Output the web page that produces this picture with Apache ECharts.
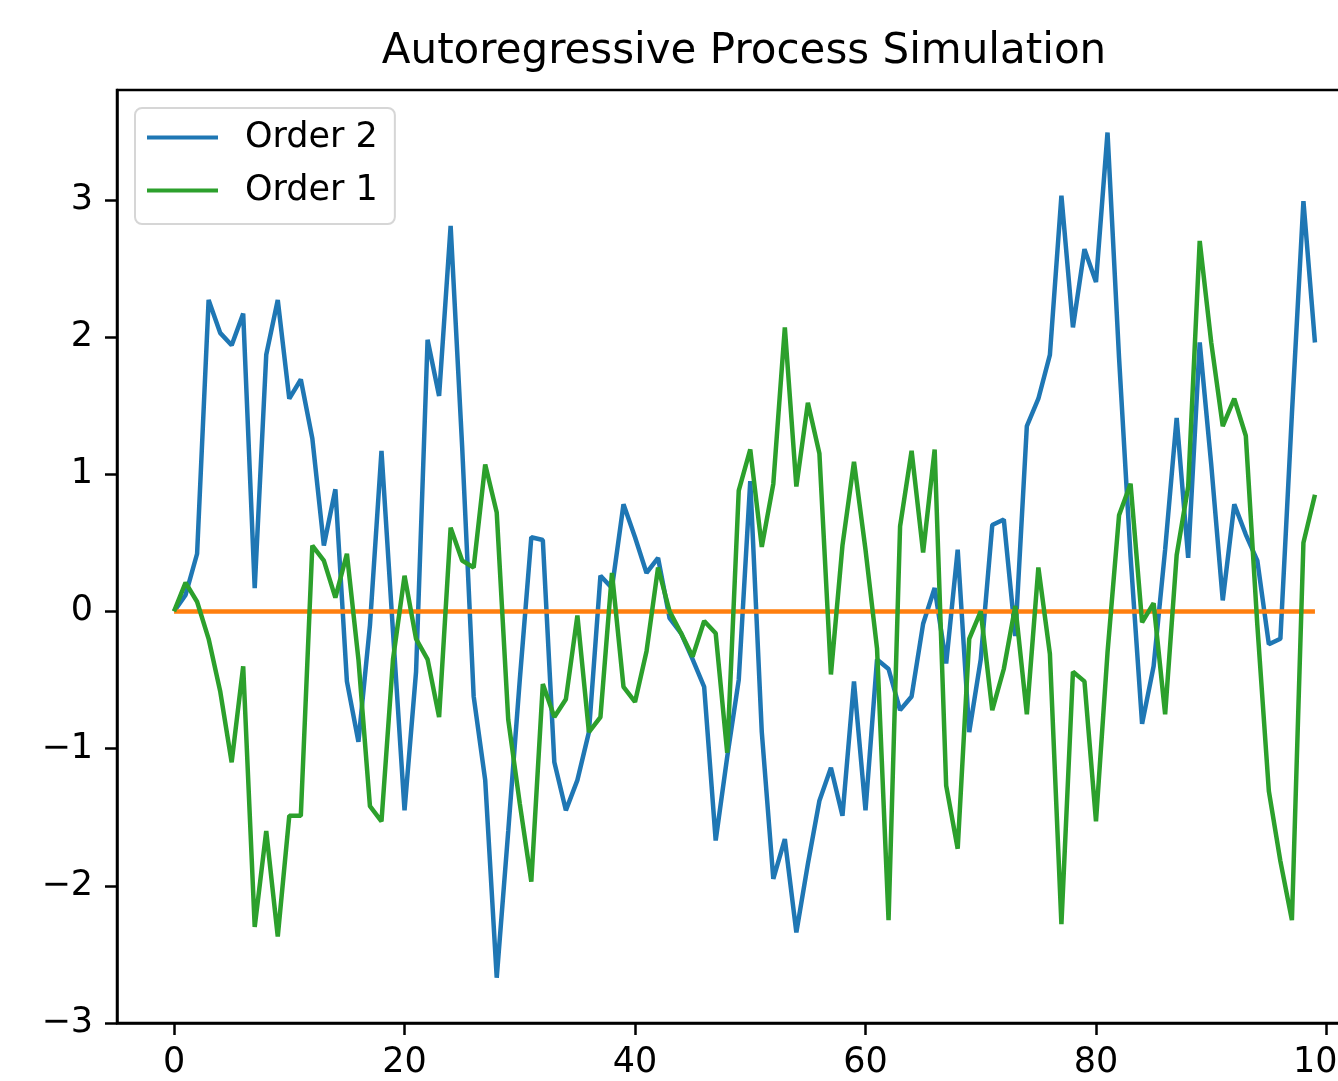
<!DOCTYPE html>
<html>
<head>
<meta charset="utf-8">
<title>Autoregressive Process Simulation</title>
<script src="https://cdn.jsdelivr.net/npm/echarts@6/dist/echarts.min.js"></script>
<style>
  html, body { margin: 0; padding: 0; background: #fff; }
  #chart { width: 1338px; height: 1081px; }
</style>
</head>
<body>
<div id="chart"></div>
<script>
// time steps
const steps = [
  0, 1, 2, 3, 4, 5, 6, 7, 8, 9, 10, 11, 12, 13, 14, 15, 16, 17, 18, 19,
  20, 21, 22, 23, 24, 25, 26, 27, 28, 29, 30, 31, 32, 33, 34, 35, 36, 37, 38, 39,
  40, 41, 42, 43, 44, 45, 46, 47, 48, 49, 50, 51, 52, 53, 54, 55, 56, 57, 58, 59,
  60, 61, 62, 63, 64, 65, 66, 67, 68, 69, 70, 71, 72, 73, 74, 75, 76, 77, 78, 79,
  80, 81, 82, 83, 84, 85, 86, 87, 88, 89, 90, 91, 92, 93, 94, 95, 96, 97, 98, 99
]

// AR(2) simulation
const order2 = [
  0, 0.12, 0.42, 2.27, 2.03, 1.94, 2.17, 0.17, 1.87, 2.27,
  1.55, 1.69, 1.26, 0.48, 0.89, -0.51, -0.95, -0.1, 1.17, -0.15,
  -1.45, -0.44, 1.98, 1.57, 2.81, 1.2, -0.62, -1.23, -2.67, -1.6,
  -0.5, 0.54, 0.52, -1.1, -1.45, -1.23, -0.88, 0.26, 0.17, 0.78,
  0.54, 0.28, 0.39, -0.05, -0.16, -0.35, -0.55, -1.67, -1.06, -0.5,
  0.95, -0.88, -1.95, -1.66, -2.34, -1.84, -1.38, -1.14, -1.49, -0.51,
  -1.45, -0.35, -0.42, -0.72, -0.62, -0.09, 0.17, -0.38, 0.45, -0.88,
  -0.35, 0.63, 0.67, -0.18, 1.35, 1.55, 1.87, 3.03, 2.07, 2.64,
  2.4, 3.49, 1.85, 0.4, -0.82, -0.4, 0.45, 1.41, 0.39, 1.96,
  1.07, 0.08, 0.78, 0.56, 0.37, -0.24, -0.2, 1.44, 2.99, 1.96
]

// flat order-0 line
const order0 = [
  0, 0, 0, 0, 0, 0, 0, 0, 0, 0, 0, 0, 0, 0, 0, 0, 0, 0, 0, 0,
  0, 0, 0, 0, 0, 0, 0, 0, 0, 0, 0, 0, 0, 0, 0, 0, 0, 0, 0, 0,
  0, 0, 0, 0, 0, 0, 0, 0, 0, 0, 0, 0, 0, 0, 0, 0, 0, 0, 0, 0,
  0, 0, 0, 0, 0, 0, 0, 0, 0, 0, 0, 0, 0, 0, 0, 0, 0, 0, 0, 0,
  0, 0, 0, 0, 0, 0, 0, 0, 0, 0, 0, 0, 0, 0, 0, 0, 0, 0, 0, 0
]

// AR(1) simulation
const order1 = [
  0, 0.21, 0.07, -0.2, -0.58, -1.1, -0.4, -2.3, -1.6, -2.37,
  -1.49, -1.49, 0.48, 0.37, 0.1, 0.42, -0.35, -1.42, -1.53, -0.35,
  0.26, -0.2, -0.35, -0.77, 0.61, 0.37, 0.32, 1.07, 0.72, -0.79,
  -1.4, -1.97, -0.53, -0.77, -0.64, -0.03, -0.88, -0.77, 0.28, -0.55,
  -0.66, -0.29, 0.32, 0, -0.16, -0.33, -0.07, -0.16, -1.03, 0.88,
  1.18, 0.47, 0.93, 2.07, 0.91, 1.52, 1.15, -0.46, 0.48, 1.09,
  0.45, -0.27, -2.25, 0.62, 1.17, 0.43, 1.18, -1.27, -1.73, -0.2,
  0, -0.72, -0.42, 0.04, -0.75, 0.32, -0.31, -2.28, -0.44, -0.51,
  -1.53, -0.3, 0.7, 0.93, -0.08, 0.06, -0.75, 0.41, 0.91, 2.7,
  1.96, 1.35, 1.55, 1.28, -0.1, -1.31, -1.82, -2.25, 0.5, 0.85
]

const xTicks = [0, 20, 40, 60, 80, 100]
const yTicks = [-3, -2, -1, 0, 1, 2, 3]

const FONT = 'DejaVu Sans'
const minus = v => String(v).replace('-', '\u2212')
const pairs = ys => steps.map((x, i) => [x, ys[i]])

const chart = echarts.init(document.getElementById('chart'), null, { renderer: 'canvas' })

const axisCommon = {
  type: 'value',
  splitLine: { show: false },
  axisLine: { show: true, onZero: false, lineStyle: { color: '#000', width: 2.5 } },
  axisTick: { show: true, length: 12, inside: false, lineStyle: { color: '#000', width: 2.5 } }
}

chart.setOption({
  animation: false,
  backgroundColor: '#fff',
  title: {
    text: 'Autoregressive Process Simulation',
    left: 739,
    textAlign: 'center',
    top: 26,
    textStyle: { fontFamily: FONT, fontSize: 42, fontWeight: 'normal', color: '#000' }
  },
  legend: {
    data: ['Order 2', 'Order 1'],
    orient: 'vertical',
    left: 135,
    top: 108,
    padding: [12, 17, 16, 12],
    icon: 'rect',
    itemWidth: 71,
    itemHeight: 4,
    itemGap: 18,
    backgroundColor: '#fff',
    borderColor: '#d6d6d6',
    borderWidth: 2,
    borderRadius: 7,
    textStyle: { fontFamily: FONT, fontSize: 35, lineHeight: 30, color: '#000', padding: [0, 0, 0, 22] }
  },
  grid: {
    left: 117,
    top: 90,
    width: 1255,
    height: 933,
    containLabel: false,
    outerBoundsMode: 'none',
    show: true,
    borderColor: '#000',
    borderWidth: 2.5,
    backgroundColor: '#fff'
  },
  xAxis: {
    ...axisCommon,
    min: -4.95,
    max: 103.95,
    axisTick: { ...axisCommon.axisTick, customValues: xTicks },
    axisLabel: {
      customValues: xTicks, margin: 22,
      fontFamily: FONT, fontSize: 35, color: '#000',
      formatter: v => minus(v)
    }
  },
  yAxis: {
    ...axisCommon,
    min: -3,
    max: 3.8,
    axisTick: { ...axisCommon.axisTick, customValues: yTicks },
    axisLabel: {
      customValues: yTicks, margin: 24,
      fontFamily: FONT, fontSize: 35, color: '#000',
      formatter: v => minus(v)
    }
  },
  series: [
    {
      name: 'Order 2', type: 'line', data: pairs(order2),
      symbol: 'none', color: '#1f77b4',
      lineStyle: { width: 4.5, color: '#1f77b4' }, z: 2
    },
    {
      name: 'Order 0', type: 'line', data: pairs(order0),
      symbol: 'none', color: '#ff7f0e',
      lineStyle: { width: 4.5, color: '#ff7f0e' }, z: 3
    },
    {
      name: 'Order 1', type: 'line', data: pairs(order1),
      symbol: 'none', color: '#2ca02c',
      lineStyle: { width: 4.5, color: '#2ca02c' }, z: 4
    }
  ]
})
</script>
</body>
</html>
